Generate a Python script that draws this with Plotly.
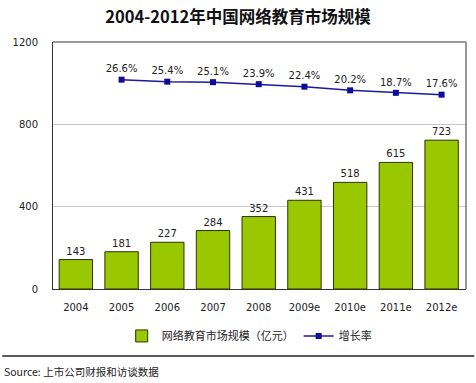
import plotly.graph_objects as go

years = ["2004", "2005", "2006", "2007", "2008", "2009e", "2010e", "2011e", "2012e"]
market = [143, 181, 227, 284, 352, 431, 518, 615, 723]
growth_years = ["2005", "2006", "2007", "2008", "2009e", "2010e", "2011e", "2012e"]
growth = [26.6, 25.4, 25.1, 23.9, 22.4, 20.2, 18.7, 17.6]
growth_labels = ["26.6%", "25.4%", "25.1%", "23.9%", "22.4%", "20.2%", "18.7%", "17.6%"]

font_main = "DejaVu Sans, Noto Sans CJK SC, sans-serif"
font_cjk = "Noto Sans CJK SC, DejaVu Sans, sans-serif"

fig = go.Figure()
fig.add_trace(go.Bar(
    x=years, y=market, name="网络教育市场规模（亿元）",
    marker=dict(color="#99C800", line=dict(color="#2a3300", width=1)),
    text=[str(v) for v in market], textposition="outside",
    textfont=dict(size=10, color="#222222", family=font_main),
    cliponaxis=False,
))
fig.add_trace(go.Scatter(
    x=growth_years, y=growth, name="增长率", yaxis="y2",
    mode="lines+markers+text",
    line=dict(color="#1a1aa0", width=1.5),
    marker=dict(symbol="square", size=6, color="#0d0d99"),
    text=growth_labels, textposition="top center",
    textfont=dict(size=10, color="#222222", family=font_main),
))

fig.update_layout(
    width=476, height=383,
    margin=dict(l=53, r=10, t=42, b=94, autoexpand=False),
    paper_bgcolor="white", plot_bgcolor="white",
    bargap=0.27,
    showlegend=True,
    legend=dict(orientation="h", x=0.475, xanchor="center", y=-0.19, yanchor="middle",
                font=dict(size=11, family=font_cjk, color="#222222"),
                traceorder="normal"),
    title=dict(text="<b>2004-2012年中国网络教育市场规模</b>", x=0.5, xanchor="center",
               y=0.955, yanchor="middle",
               font=dict(size=16.5, family=font_cjk, color="#111111")),
    xaxis=dict(showline=True, linecolor="#333333", linewidth=1, mirror=False,
               tickfont=dict(size=10, family=font_main, color="#222222"),
               ticks="", ticklabelstandoff=9),
    yaxis=dict(range=[0, 1200], tickvals=[0, 400, 800, 1200],
               showgrid=True, gridcolor="#c8c8c8", gridwidth=1,
               showline=True, linecolor="#333333", linewidth=1,
               tickfont=dict(size=10, family=font_main, color="#222222"),
               ticks="", ticklabelstandoff=12, zeroline=False),
    yaxis2=dict(range=[-99, 49.2], overlaying="y", side="right", visible=False),
    shapes=[
        dict(type="line", xref="paper", yref="paper", x0=0, x1=1, y0=1, y1=1,
             line=dict(color="#777777", width=1.5)),
        dict(type="line", xref="paper", yref="paper", x0=1, x1=1, y0=0, y1=1,
             line=dict(color="#777777", width=1.5)),
        dict(type="line", xref="paper", yref="paper", x0=-0.123, x1=1.02, y0=-0.271, y1=-0.271,
             line=dict(color="#222222", width=1.5)),
    ],
    annotations=[
        dict(text="Source: 上市公司财报和访谈数据", xref="paper", yref="paper",
             x=-0.123, y=-0.336, xanchor="left", yanchor="middle", showarrow=False,
             font=dict(size=10.5, family=font_cjk, color="#222222")),
    ],
)

fig.write_html("out.html", config={"displayModeBar": False},
               post_script="document.body.style.margin='0';")
